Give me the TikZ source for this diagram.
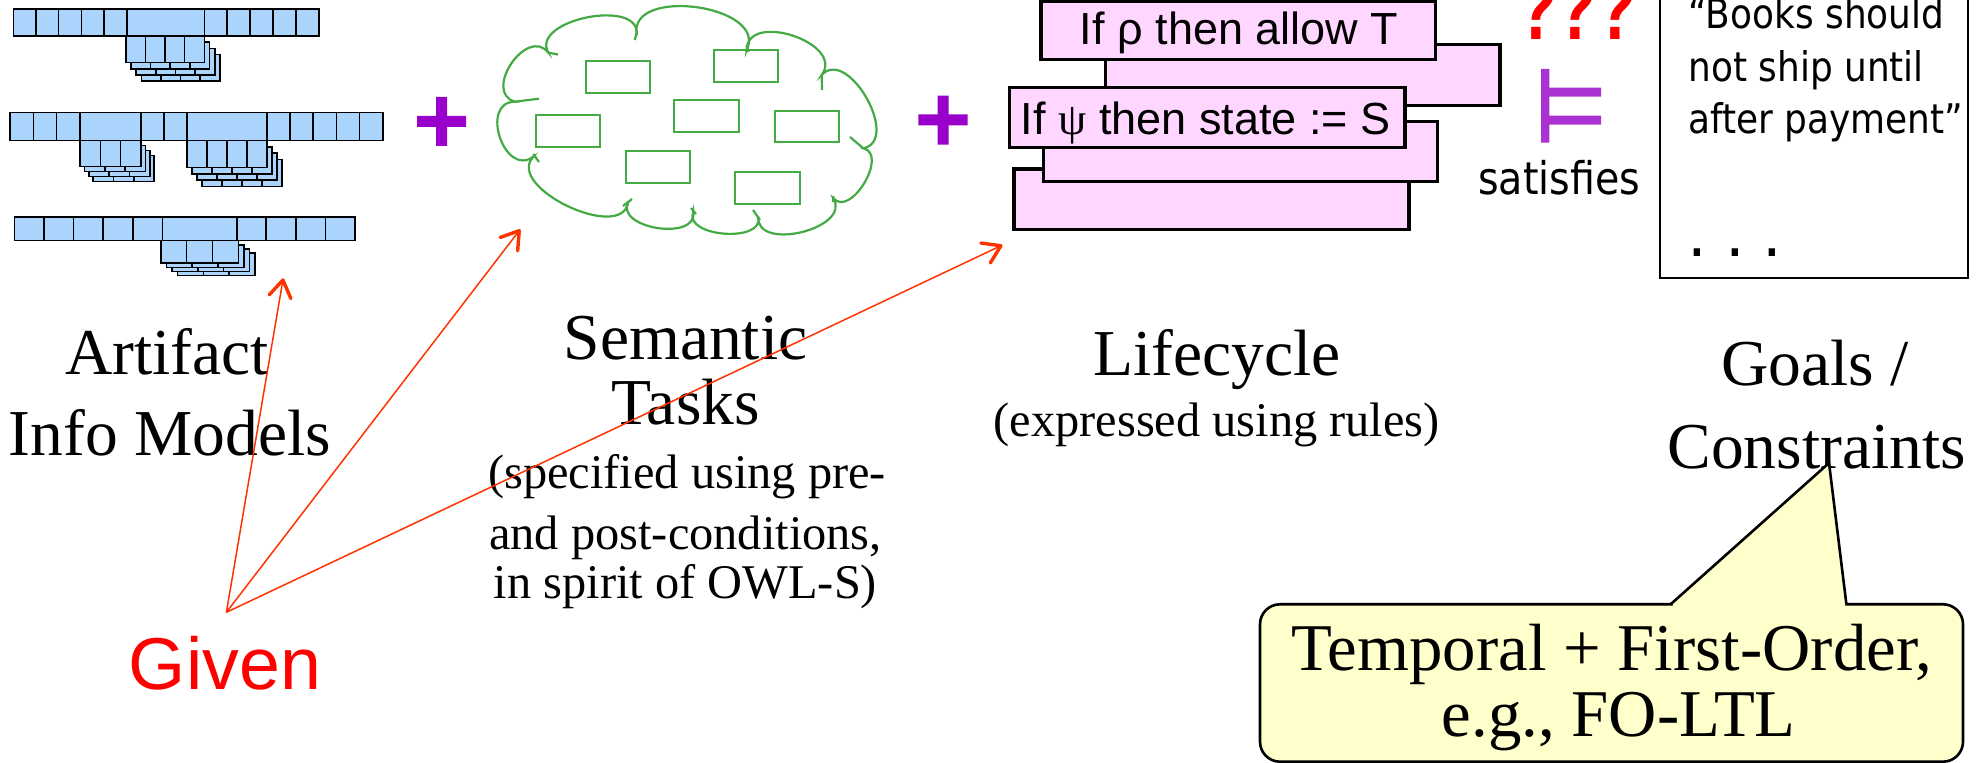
\documentclass[tikz,border=0pt]{standalone}
\usepackage{fontspec}
\setmainfont{Liberation Serif}
\newfontfamily\sansrule{Liberation Sans}
\newfontfamily\qfont[FakeStretch=0.72]{Liberation Sans}
\newfontfamily\humsans[FakeStretch=0.88]{DejaVu Sans}
\usetikzlibrary{calc,arrows.meta}
\definecolor{artblue}{RGB}{170,212,252}
\definecolor{rulepink}{RGB}{255,214,255}
\definecolor{cloudgreen}{RGB}{68,170,68}
\definecolor{plusviolet}{RGB}{153,0,204}
\definecolor{modelsviolet}{RGB}{170,50,210}
\definecolor{arrowred}{RGB}{255,51,0}
\definecolor{noteyellow}{RGB}{255,255,204}

% a run of #3 equal cells from x=#1 to x=#2, between y=#4 and y=#5
\newcommand\cellrun[5]{%
  \pgfmathsetmacro\runw{((#2)-(#1))/(#3)}%
  \foreach \i in {1,...,#3}{\draw[cell] ({#1+(\i-1)*\runw},{#4}) rectangle ({#1+\i*\runw},{#5});}}
% a stacked sub-table: front layer (#1,#2)-(#3,#4), #5 cells, #6 layers behind, shifted by (#7,#8)
\newcommand\cellstack[8]{%
  \foreach \k in {#6,...,0}{\cellrun{#1+\k*#7}{#3+\k*#7}{#5}{#2+\k*#8}{#4+\k*#8}}}

\begin{document}
\begin{tikzpicture}[x=0.5pt,y=-0.5pt,
  cell/.style={draw=black,fill=artblue,line width=0.8pt},
  rulebox/.style={draw=black,fill=rulepink,line width=1.6pt},
  cloudline/.style={draw=cloudgreen,line width=1.1pt},
  taskbox/.style={draw=cloudgreen,line width=1.1pt},
  heading/.style={font=\fontsize{32.75}{39}\selectfont,anchor=base,inner sep=0pt},
  subnote/.style={font=\fontsize{24.2}{29}\selectfont,anchor=base,inner sep=0pt},
  ruletext/.style={font=\sansrule\fontsize{22.5}{27}\selectfont,anchor=base,inner sep=0pt},
  goaltext/.style={font=\humsans\fontsize{20.4}{25}\selectfont,anchor=base west,inner sep=0pt},
  qmark/.style={font=\qfont\bfseries\fontsize{46}{54}\selectfont,text=red,anchor=base,inner sep=0pt},
  calltext/.style={font=\fontsize{33.4}{40}\selectfont,anchor=base,inner sep=0pt},
  givenarrow/.style={draw=arrowred,line width=0.75pt,
    -{Straight Barb[length=8.5pt,width=11pt,line width=1.7pt,round]}},
]
\useasboundingbox (0,0) rectangle (1981,763);

% ---------- artifact information models ----------
\cellrun{13.3}{126.7}{5}{9.3}{36}
\draw[cell] (126.7,9.3) rectangle (204.3,36);
\cellrun{204.3}{319}{5}{9.3}{36}
\cellstack{125.7}{36}{204.3}{62.7}{4}{3}{5.2}{6.2}

\cellrun{10}{80}{3}{112.7}{140.7}
\draw[cell] (80,112.7) rectangle (141,140.7);
\cellrun{141}{186.7}{2}{112.7}{140.7}
\draw[cell] (186.7,112.7) rectangle (266.7,140.7);
\cellrun{266.7}{382.7}{5}{112.7}{140.7}
\cellstack{80}{140.7}{141}{166.7}{3}{3}{4.4}{5}
\cellstack{186.7}{140.7}{266.7}{167.7}{4}{3}{5}{6.3}

\cellrun{14.3}{162.3}{5}{217.3}{240.7}
\draw[cell] (162.3,217.3) rectangle (236.7,240.7);
\cellrun{236.7}{355}{4}{217.3}{240.7}
\cellstack{160.7}{240.7}{238.3}{263.3}{3}{3}{5.6}{4.1}

% ---------- plus signs ----------
\fill[plusviolet] (417,116) rectangle (466,127) (436,97) rectangle (447,146);
\fill[plusviolet] (918.3,114.3) rectangle (967.7,125.3) (937.7,95.7) rectangle (948.7,144.7);

% ---------- cloud of semantic tasks ----------
\coordinate (c1) at (533.3,156.7);
\coordinate (c2) at (515,101.7);
\coordinate (c3) at (548.3,52.7);
\coordinate (c4) at (636.7,35);
\coordinate (c5) at (746.7,50);
\coordinate (c6) at (821.7,75);
\coordinate (c7) at (863.3,148.3);
\coordinate (c8) at (833.3,198.3);
\coordinate (c9) at (758.3,216.7);
\coordinate (c10) at (693.3,211.7);
\coordinate (c11) at (628.3,201.7);
\draw[cloudline,fill=white]
  (c1) .. controls ($(c1)!0.62!108:(c2)$) and ($(c2)!0.62!-108:(c1)$) .. (c2)
       .. controls ($(c2)!0.58!108:(c3)$) and ($(c3)!0.58!-108:(c2)$) .. (c3)
       .. controls ($(c3)!0.42!108:(c4)$) and ($(c4)!0.42!-108:(c3)$) .. (c4)
       .. controls ($(c4)!0.45!108:(c5)$) and ($(c5)!0.45!-108:(c4)$) .. (c5)
       .. controls ($(c5)!0.50!108:(c6)$) and ($(c6)!0.50!-108:(c5)$) .. (c6)
       .. controls ($(c6)!0.46!108:(c7)$) and ($(c7)!0.46!-108:(c6)$) .. (c7)
       .. controls ($(c7)!0.45!108:(c8)$) and ($(c8)!0.45!-108:(c7)$) .. (c8)
       .. controls ($(c8)!0.46!108:(c9)$) and ($(c9)!0.46!-108:(c8)$) .. (c9)
       .. controls ($(c9)!0.42!108:(c10)$) and ($(c10)!0.42!-108:(c9)$) .. (c10)
       .. controls ($(c10)!0.46!108:(c11)$) and ($(c11)!0.46!-108:(c10)$) .. (c11)
       .. controls ($(c11)!0.40!108:(c1)$) and ($(c1)!0.40!-108:(c11)$) .. (c1) -- cycle;
% inner ends of the puffs
\draw[cloudline] (548.3,52.7) -- (558,54.5);
\draw[cloudline] (515,101.7) -- (539,98.7);
\draw[cloudline] (533.3,154) -- (539,162);
\draw[cloudline] (636.7,33) -- (634.7,40);
\draw[cloudline] (746.7,45) -- (748.3,52);
\draw[cloudline] (821.7,75) -- (822,90);
\draw[cloudline] (863.3,148.3) -- (850,137);
\draw[cloudline] (833.3,196) -- (833,202);
\draw[cloudline] (753,210) -- (760,220);
\draw[cloudline] (691,208) -- (696,214);
\draw[cloudline] (632,199) -- (623,206);
% task boxes
\draw[taskbox] (585.7,61.3) rectangle (650.3,93);
\draw[taskbox] (714.3,50) rectangle (778.3,82);
\draw[taskbox] (674.3,100) rectangle (738.7,131.7);
\draw[taskbox] (775,110.7) rectangle (839.3,142.3);
\draw[taskbox] (535.7,115) rectangle (599.7,146.7);
\draw[taskbox] (626,151) rectangle (690.3,182.7);
\draw[taskbox] (735,172.3) rectangle (799.7,204);

% ---------- lifecycle rules ----------
\draw[rulebox] (1014,169) rectangle (1409,229.3);
\draw[rulebox] (1043.3,121.7) rectangle (1437.5,181.7);
\draw[rulebox] (1105.7,44.3) rectangle (1500,105.7);
\draw[rulebox] (1009.3,87.3) rectangle (1405,147.3);
\draw[rulebox] (1041,1.5) rectangle (1435.7,59.3);
\node[ruletext] (ruleA) at (1239,45) {If ρ then allow T};
\node[ruletext] (ruleC) at (1205.8,134.3) {If {\rmfamily ψ} then state := S};

% ---------- satisfies ----------
\node[qmark] (q1) at (1537.4,40) {?};
\node[qmark] (q2) at (1577,40) {?};
\node[qmark] (q3) at (1616.6,40) {?};
\fill[modelsviolet] (1541,69) rectangle (1549.3,142.7)
  (1549.3,87.7) rectangle (1601,96.7) (1549.3,115.7) rectangle (1601,124.7);
\node[font=\humsans\fontsize{22.5}{27}\selectfont,anchor=base,inner sep=0pt] (sat) at (1559.2,195) {satisfies};

% ---------- goals box ----------
\draw[line width=0.85pt] (1660,-10) rectangle (1968,278);
\node[goaltext] (goalA) at (1688,28.5) {“Books should};
\node[goaltext] (goalB) at (1688,81.5) {not ship until};
\node[goaltext] (goalC) at (1688,133.8) {after payment”};
\node[goaltext,font=\humsans\bfseries\fontsize{20.4}{25}\selectfont] (goalD) at (1690,256.5) {.\hspace{12pt}.\hspace{12pt}.};

% ---------- captions ----------
\node[heading] (art1) at (167,374.3) {Artifact};
\node[heading] (art2) at (170,456) {Info Models};
\node[heading] (sem1) at (685.5,359.3) {Semantic};
\node[heading] (sem2) at (685.6,425) {Tasks};
\node[subnote] (sem3) at (687,488.3) {(specified using pre-};
\node[subnote] (sem4) at (685.5,550) {and post-conditions,};
\node[subnote] (sem5) at (685.5,598.3) {in spirit of OWL-S)};
\node[heading] (life1) at (1216.7,376) {Lifecycle};
\node[subnote] (life2) at (1216.7,436.7) {(expressed using rules)};
\node[heading] (goal1) at (1815,386) {Goals /};
\node[heading] (goal2) at (1816.7,468.3) {Constraints};

\node[font=\sansrule\fontsize{36.75}{44}\selectfont,text=red,anchor=base,inner sep=0pt] (given) at (225,689.3) {Given};

% ---------- arrows from "Given" ----------
\coordinate (src) at (226.4,612.3);
\coordinate (tipA) at (283.2,278.3);
\coordinate (tipB) at (520.3,229.3);
\coordinate (tipC) at (1002.5,245);
\draw[givenarrow] (src) -- (tipA);
\draw[givenarrow] (src) -- (tipB);
\draw[givenarrow] (src) -- (tipC);

% ---------- callout ----------
\draw[line width=1.3pt,fill=noteyellow,rounded corners=10pt] (1260,604.3) rectangle (1963,761.7);
\fill[noteyellow] (1670.6,604.3) -- (1829,463) -- (1846.4,604.3) -- cycle;
\fill[noteyellow] (1673,602.5) rectangle (1844.5,606.5);
\draw[line width=1.3pt] (1670.6,604.3) -- (1829,463) -- (1846.4,604.3);
\node[calltext] (foA) at (1612,671) {Temporal + First-Order,};
\node[calltext] (foB) at (1618.7,736.7) {e.g., FO-LTL};
\end{tikzpicture}
\end{document}
